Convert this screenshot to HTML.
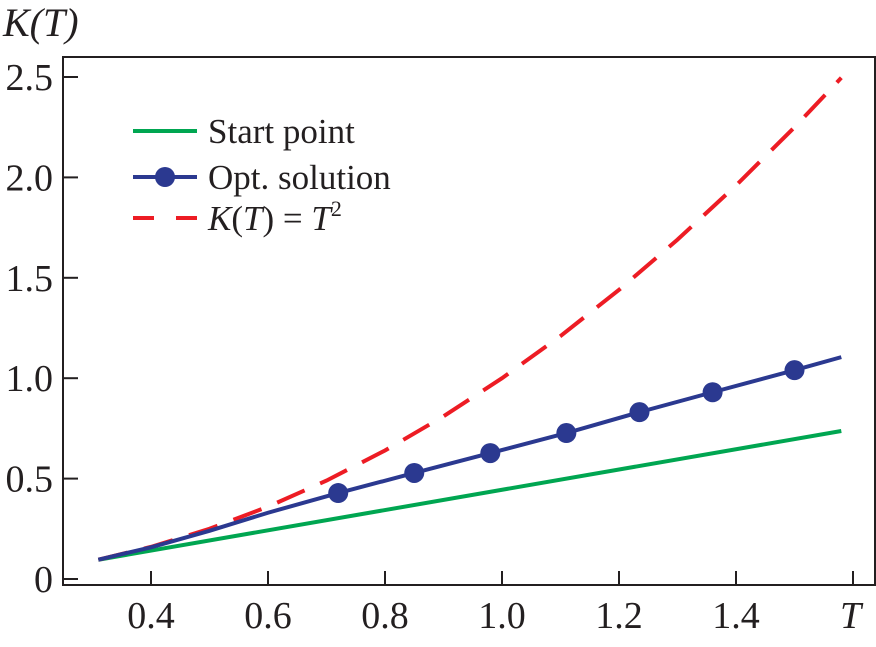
<!DOCTYPE html>
<html><head><meta charset="utf-8"><style>
html,body{margin:0;padding:0;background:#fff;}
svg text{font-family:"Liberation Serif",serif;fill:#231f20;}
</style></head><body>
<svg id="chart" width="876" height="642" viewBox="0 0 876 642" xmlns="http://www.w3.org/2000/svg">
<rect x="63" y="57" width="812" height="528" fill="none" stroke="#231f20" stroke-width="2"/>
<g id="ticks"></g>
<g id="series"></g>
<text x="3" y="36" font-size="40" font-style="italic">K(T)</text>
<text x="840" y="628" font-size="38" font-style="italic">T</text>
<g>
<line x1="133" y1="131" x2="197" y2="131" stroke="#00a651" stroke-width="4"/>
<text x="208" y="143" font-size="35">Start point</text>
<line x1="133" y1="177" x2="197" y2="177" stroke="#2b3990" stroke-width="4"/>
<circle cx="165" cy="177" r="10" fill="#2b3990"/>
<text x="208" y="189" font-size="35">Opt. solution</text>
<line x1="133" y1="218" x2="197" y2="218" stroke="#ed1c24" stroke-width="4" stroke-dasharray="21,22"/>
<text x="208" y="230" font-size="35"><tspan font-style="italic">K</tspan>(<tspan font-style="italic">T</tspan>) = <tspan font-style="italic">T</tspan><tspan font-size="22" dy="-14">2</tspan></text>
</g>
</svg>
<script>
const xTicks=[0.4,0.6,0.8,1.0,1.2,1.4,1.6];
const xTickLabels=["0.4","0.6","0.8","1.0","1.2","1.4",""];
const yTicks=[0,0.5,1.0,1.5,2.0,2.5];
const yTickLabels=["0","0.5","1.0","1.5","2.0","2.5"];
const startT=[0.31,1.58];
const startK=[0.096,0.737];
const optT=[0.31,0.4,0.5,0.6,0.72,0.85,0.98,1.11,1.235,1.36,1.50,1.58];
const optK=[0.096,0.158,0.24,0.33,0.428,0.528,0.627,0.727,0.831,0.93,1.04,1.105];
const markerT=[0.72,0.85,0.98,1.11,1.235,1.36,1.50];
const markerK=[0.428,0.528,0.627,0.727,0.831,0.93,1.04];
const curveT=[0.31,0.4,0.5,0.6,0.7,0.8,0.9,1.0,1.1,1.2,1.3,1.4,1.5,1.58];
const curveK=[0.096,0.16,0.25,0.36,0.49,0.64,0.81,1.0,1.21,1.44,1.69,1.96,2.25,2.496];
const NS="http://www.w3.org/2000/svg";
const X=t=>151+(t-0.4)*585;
const Y=v=>579-v*200.8;
function mk(tag,attrs,parent){const e=document.createElementNS(NS,tag);for(const k in attrs)e.setAttribute(k,attrs[k]);parent.appendChild(e);return e;}
const tg=document.getElementById('ticks'), sg=document.getElementById('series');
xTicks.forEach((t,i)=>{
 const l=mk('line',{x1:X(t),y1:585,x2:X(t),y2:571,stroke:'#231f20','stroke-width':2},tg);
 
 
 if(xTickLabels[i]){const tx=mk('text',{x:X(t),y:628,'font-size':38,'text-anchor':'middle'},tg);tx.textContent=xTickLabels[i];
 
 }
});
yTicks.forEach((v,i)=>{
 const l=mk('line',{x1:63,y1:Y(v),x2:78,y2:Y(v),stroke:'#231f20','stroke-width':2},tg);
 
 
 const tx=mk('text',{x:53,y:Y(v)+13,'font-size':38,'text-anchor':'end'},tg);tx.textContent=yTickLabels[i];
 
 
});
const pts=(a,b)=>a.map((t,i)=>X(t)+','+Y(b[i])).join(' ');
const g=mk('polyline',{points:pts(startT,startK),fill:'none',stroke:'#00a651','stroke-width':4},sg);


const r=mk('polyline',{points:pts(curveT,curveK),fill:'none',stroke:'#ed1c24','stroke-width':4,'stroke-dasharray':'30,17'},sg);


const b=mk('polyline',{points:pts(optT,optK),fill:'none',stroke:'#2b3990','stroke-width':4},sg);


markerT.forEach((t,i)=>{const c=mk('circle',{cx:X(t),cy:Y(markerK[i]),r:10,fill:'#2b3990'},sg);
 
 });
</script>
</body></html>
